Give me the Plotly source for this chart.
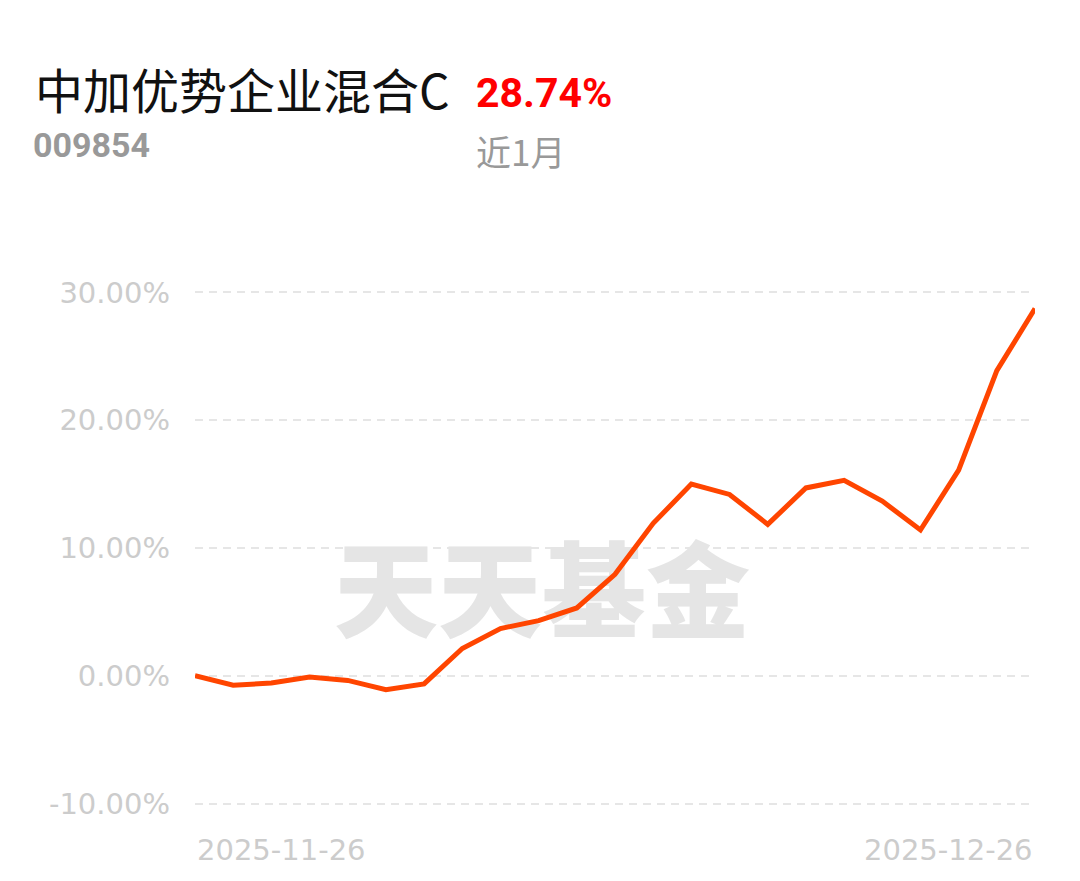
import plotly.graph_objects as go

fund_name = "中加优势企业混合C"
fund_code = "009854"
period_return = "28.74%"
period_label = "近1月"
watermark = "天天基金"

dates = ["2025-11-26", "2025-11-27", "2025-11-28", "2025-12-01", "2025-12-02",
         "2025-12-03", "2025-12-04", "2025-12-05", "2025-12-08", "2025-12-09",
         "2025-12-10", "2025-12-11", "2025-12-12", "2025-12-15", "2025-12-16",
         "2025-12-17", "2025-12-18", "2025-12-19", "2025-12-22", "2025-12-23",
         "2025-12-24", "2025-12-25", "2025-12-26"]
returns = [0.00, -0.73, -0.57, -0.10, -0.36, -1.09, -0.63, 2.14, 3.70, 4.32,
           5.31, 7.94, 11.93, 15.00, 14.19, 11.85, 14.70, 15.29, 13.67, 11.41,
           16.09, 23.88, 28.74]
y_ticks = [-10, 0, 10, 20, 30]
y_tick_text = [f"{v:.2f}%" for v in y_ticks]

W, H = 1080, 881
L, R = 195, 1035
top_px, bot_px = 285.6, 810.4
pw, ph = R - L, bot_px - top_px

def px(xp):
    return (xp - L) / pw

def py(yp):
    return (bot_px - yp) / ph

fig = go.Figure()

# watermark on base (hidden) axes, under the data line
fig.add_trace(go.Scatter(
    x=[px(542)], y=[py(604)], mode="text", text=[watermark],
    textfont=dict(family="Noto Sans CJK SC", size=104, color="#e5e5e5", weight=900),
    xaxis="x", yaxis="y", hoverinfo="skip", showlegend=False,
))

fig.add_trace(go.Scatter(
    x=dates, y=returns, mode="lines",
    line=dict(color="#ff4500", width=5, shape="linear"),
    xaxis="x2", yaxis="y2",
    showlegend=False, hoverinfo="skip",
))

fig.update_layout(
    width=W, height=H,
    margin=dict(l=L, r=W - R, t=top_px, b=H - bot_px, pad=0),
    paper_bgcolor="white", plot_bgcolor="white",
    xaxis=dict(range=[0, 1], visible=False),
    yaxis=dict(range=[0, 1], visible=False),
    xaxis2=dict(type="category", range=[0, len(dates) - 1], overlaying="x",
                showgrid=False, showticklabels=False, zeroline=False,
                showline=False, ticks=""),
    yaxis2=dict(range=[-10.5, 30.5], overlaying="y", side="left",
                tickvals=y_ticks, ticktext=y_tick_text,
                showgrid=True, gridcolor="#e6e6e6", gridwidth=2, griddash="8px,6px",
                zeroline=False, showline=False, ticks="", ticklabelstandoff=24,
                tickfont=dict(family="DejaVu Sans", size=29, color="#cccccc")),
    font=dict(family="Noto Sans CJK SC"),
)

annots = [
    dict(text=fund_name, x=px(33), y=py(87), xanchor="left", yanchor="middle",
         font=dict(family="Noto Sans CJK SC", size=48, color="#111111")),
    dict(text=period_return, x=px(474), y=py(92), xanchor="left", yanchor="middle",
         font=dict(family="Roboto", size=41, color="#ff0000", weight="bold")),
    dict(text=fund_code, x=px(31), y=py(144), xanchor="left", yanchor="middle",
         font=dict(family="Roboto", size=34, color="#999999", weight="bold")),
    dict(text=period_label, x=px(474), y=py(150), xanchor="left", yanchor="middle",
         font=dict(family="Noto Sans CJK SC", size=35, color="#999999")),
]
for a in annots:
    fig.add_annotation(xref="paper", yref="paper", showarrow=False, **a)

fig.add_annotation(x=dates[0], xref="x2", y=py(850), yref="paper", text=dates[0],
                   xanchor="left", yanchor="middle", showarrow=False,
                   font=dict(family="DejaVu Sans", size=29, color="#cccccc"))
fig.add_annotation(x=dates[-1], xref="x2", y=py(850), yref="paper", text=dates[-1],
                   xanchor="right", yanchor="middle", showarrow=False,
                   font=dict(family="DejaVu Sans", size=29, color="#cccccc"))

fig.write_html("out.html", config={"displayModeBar": False},
               post_script="document.body.style.margin='0';")
